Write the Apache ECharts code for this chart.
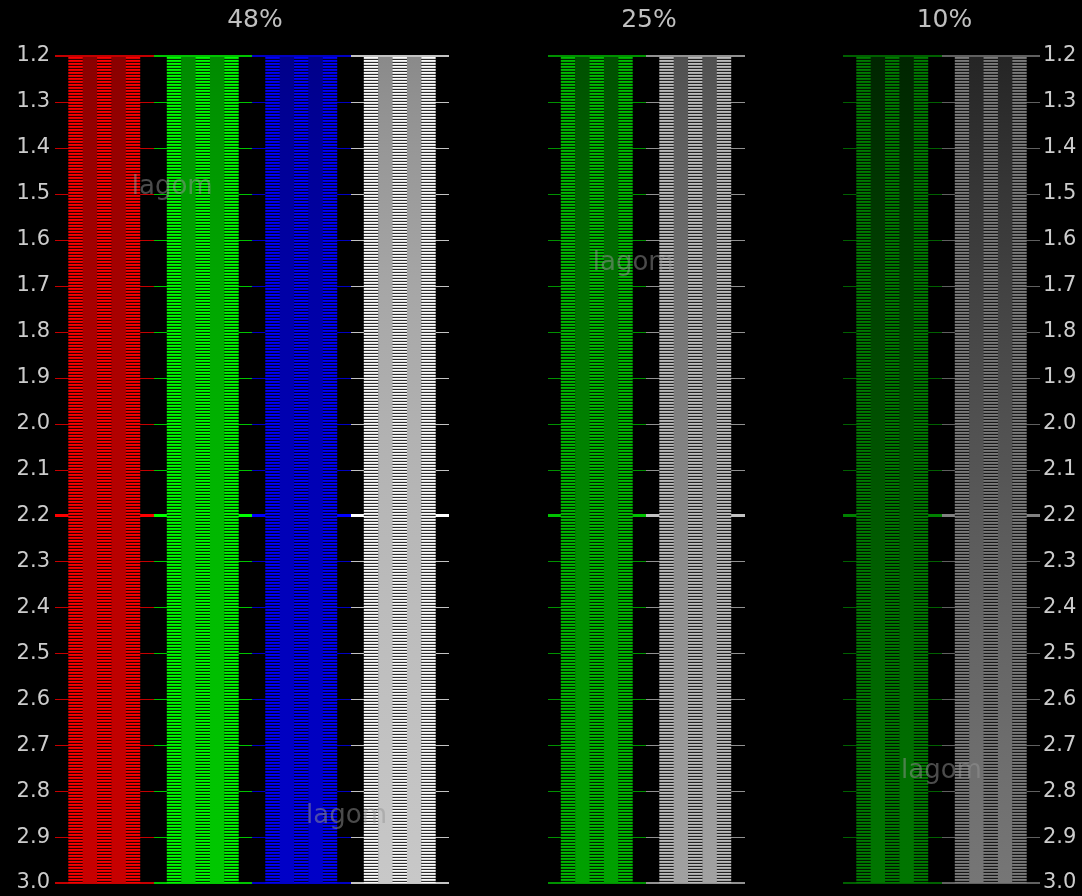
<!DOCTYPE html>
<html><head><meta charset="utf-8">
<script src="https://cdn.jsdelivr.net/npm/echarts@6/dist/echarts.min.js"></script>
<style>html,body{margin:0;padding:0;background:#000}#c{width:1082px;height:896px}</style>
</head><body><div id="c"></div>
<script>
// ---- data ----
const gammaTicks = [1.2,1.3,1.4,1.5,1.6,1.7,1.8,1.9,2.0,2.1,2.2,2.3,2.4,2.5,2.6,2.7,2.8,2.9,3.0];
const columns  = ['red 48%','green 48%','blue 48%','white 48%','', 'green 25%','white 25%','', 'green 10%','white 10%'];
const channels = ['r','g','b','w','', 'g','w','', 'g','w'];
const levels   = [48,48,48,48,0, 25,25,0, 10,10];
const groupLabels = ['48%','25%','10%'];
const groupLevels = [48,25,10];
const referenceGamma = 2.2;
const watermarkText = 'lagom';
const watermarkSpots = [[0.69,1.485],[2.46,2.855],[5.37,1.65],[8.5,2.756]];

// ---- helpers ----
const gMin = gammaTicks[0], gMax = gammaTicks[gammaTicks.length-1];
function chan(ch, v){ v = Math.max(0, Math.min(255, Math.round(v)));
  if (ch==='r') return 'rgb('+v+',0,0)';
  if (ch==='g') return 'rgb(0,'+v+',0)';
  if (ch==='b') return 'rgb(0,0,'+v+')';
  return 'rgb('+v+','+v+','+v+')'; }
function stripeValue(lvl){ return 255*Math.pow(Math.min(1, 2*lvl/100), 1/2.2); }
const patternCache = {};
function stripePattern(ch, lvl){
  const key = ch+lvl; if (patternCache[key]) return patternCache[key];
  const cv = document.createElement('canvas'); cv.width = 2; cv.height = 3;
  const ctx = cv.getContext('2d'); const v = stripeValue(lvl);
  ctx.fillStyle = '#000'; ctx.fillRect(0,0,2,3);
  ctx.fillStyle = chan(ch, v); ctx.fillRect(0,0,2,1);
  ctx.fillStyle = chan(ch, v*0.88); ctx.fillRect(0,1,2,1);
  ctx.fillStyle = chan(ch, v*0.18); ctx.fillRect(0,2,2,1);
  return patternCache[key] = {image: cv, repeat: 'repeat'};
}
function solidGradient(ch, lvl){
  return {type:'linear', x:0, y:0, x2:0, y2:1, colorStops: gammaTicks.map(g => ({
    offset: (g-gMin)/(gMax-gMin), color: chan(ch, 255*Math.pow(lvl/100, 1/g)) }))};
}

const chart = echarts.init(document.getElementById('c'), null, {renderer:'canvas'});
const font = 'DejaVu Sans';
const yAxisCommon = {type:'value', min:gMin, max:gMax, interval:0.1, inverse:true,
  axisLine:{show:false}, axisTick:{show:false}, splitLine:{show:false},
  axisLabel:{color:'#cccccc', fontSize:21, fontFamily:font, formatter:v=>v.toFixed(1)}};

chart.setOption({
  backgroundColor:'#000',
  animation:false,
  grid:{left:55, right:42, top:56, bottom:13},
  xAxis:[
    {type:'category', data:columns, show:false, boundaryGap:true},
    {type:'value', min:-0.5, max:columns.length-0.5, show:false}
  ],
  yAxis:[
    Object.assign({}, yAxisCommon, {position:'left', axisLabel:Object.assign({}, yAxisCommon.axisLabel, {margin:5})}),
    Object.assign({}, yAxisCommon, {position:'right', axisLabel:Object.assign({}, yAxisCommon.axisLabel, {margin:3})})
  ],
  series:[
    { // tick lines across each column band
      type:'custom', xAxisIndex:0, yAxisIndex:0, silent:true,
      data: columns.map((c,i)=>[c, gMin]),
      renderItem(params, api){
        const i = api.value(0); const ch = channels[i]; if (!ch) return;
        const band = api.size([1,0])[0]; const cx = api.coord([i, gMin])[0];
        const sv = stripeValue(levels[i]);
        return {type:'group', children: gammaTicks.map(g => {
          const strong = Math.abs(g-referenceGamma) < 1e-6;
          const edge = g===gMin || g===gMax;
          const lw = strong ? 3 : (edge ? 2 : 1);
          const raw = api.coord([i, g])[1];
          const y = lw % 2 ? Math.round(raw) + 0.5 : Math.round(raw);
          return {type:'line', shape:{x1:Math.round(cx-band/2), y1:y, x2:Math.round(cx+band/2), y2:y},
            style:{stroke: chan(ch, strong ? Math.min(255, sv*1.05) : sv*0.78), lineWidth: lw}};
        })};
      }
    },
    { // the striped / solid strips
      type:'custom', xAxisIndex:0, yAxisIndex:0, silent:true,
      data: columns.map((c,i)=>[c, gMin, gMax]),
      renderItem(params, api){
        const i = api.value(0); const ch = channels[i]; if (!ch) return;
        const lvl = levels[i];
        const top = api.coord([i, api.value(1)]); const bot = api.coord([i, api.value(2)]);
        const band = api.size([1,0])[0]; const w = band*0.73; const sw = w/5; const x0 = top[0]-w/2;
        const kids = [];
        for (let k=0;k<5;k++){
          kids.push({type:'rect', shape:{x:x0+k*sw, y:top[1]+1, width:sw+(k<4?0.4:0), height:bot[1]-top[1]-1},
            style:{fill: k%2===0 ? stripePattern(ch,lvl) : solidGradient(ch,lvl)}});
        }
        return {type:'group', children:kids};
      }
    },
    { // group titles
      type:'custom', xAxisIndex:1, yAxisIndex:0, silent:true,
      data: groupLabels.map((t,j)=>{
        const idx = levels.map((l,i)=>l===groupLevels[j]?i:-1).filter(i=>i>=0);
        return [idx.reduce((a,b)=>a+b,0)/idx.length, gMin, t];
      }),
      renderItem(params, api){
        const p = api.coord([api.value(0), api.value(1)]);
        return {type:'text', x:p[0]+3, y:p[1]-36, style:{text: groupLabels[params.dataIndex], fill:'#c0c0c0',
          font:'25px "'+font+'"', align:'center', verticalAlign:'middle'}};
      }
    },
    { // watermarks
      type:'custom', xAxisIndex:1, yAxisIndex:0, silent:true, z:5,
      data: watermarkSpots,
      renderItem(params, api){
        const p = api.coord([api.value(0), api.value(1)]);
        return {type:'text', x:p[0], y:p[1], style:{text: watermarkText, fill:'rgba(150,150,150,0.5)',
          font:'26px "'+font+'"', align:'center', verticalAlign:'middle'}};
      }
    }
  ]
});
</script></body></html>
